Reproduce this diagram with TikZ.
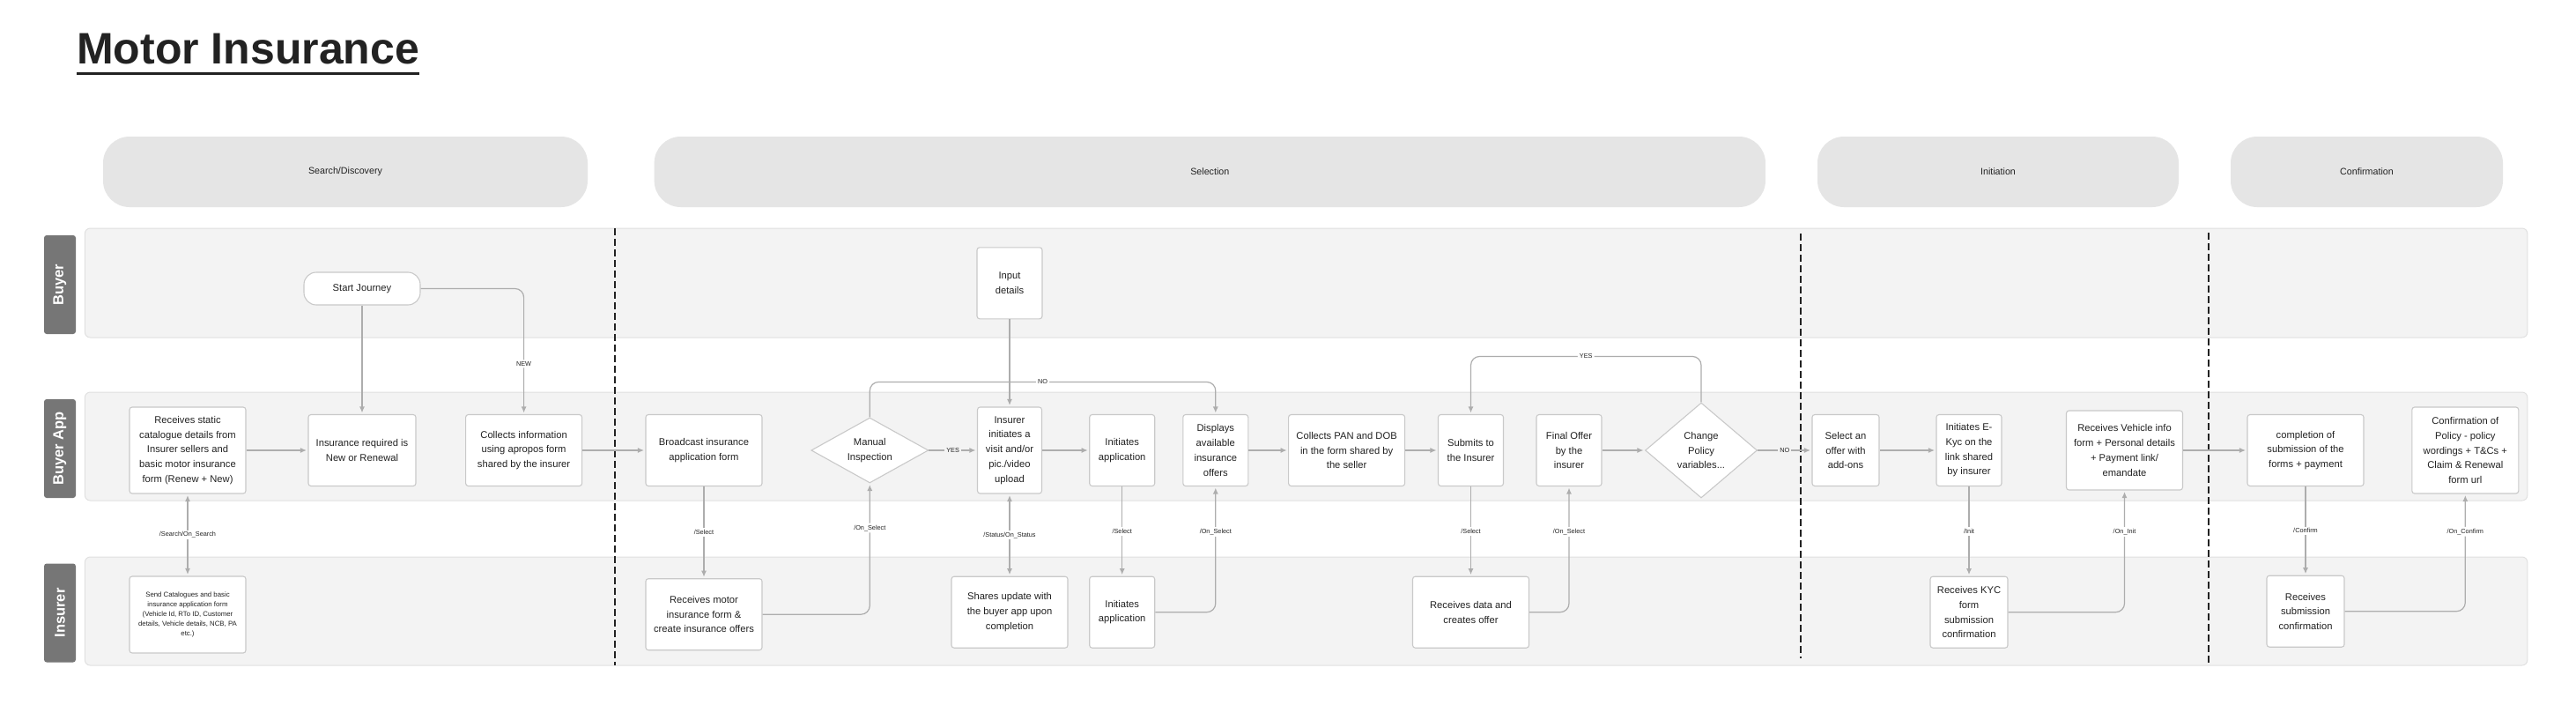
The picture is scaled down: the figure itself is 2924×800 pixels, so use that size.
\documentclass[tikz,border=0pt]{standalone}
\usepackage{fontspec}
\setmainfont{Liberation Sans}
\usetikzlibrary{shapes.geometric,arrows.meta}
\definecolor{lanefill}{HTML}{F3F3F3}
\definecolor{laneline}{HTML}{E0E0E0}
\definecolor{tagfill}{HTML}{767676}
\definecolor{pillfill}{HTML}{E5E5E5}
\definecolor{boxline}{HTML}{C9C9C9}
\definecolor{arrowc}{HTML}{ADADAD}
\definecolor{txt}{HTML}{222222}
\newcommand\bxfont{\fontsize{11.2}{16.7}\selectfont}
\newcommand\smfont{\fontsize{7.8}{11}\selectfont}
\newcommand\lblfont{\fontsize{7.3}{9}\selectfont}
\tikzset{
  pbox/.style 2 args={draw=boxline, fill=white, line width=1.1pt, rounded corners=3pt,
    align=center, text=txt, font=\bxfont, inner sep=0pt,
    minimum width=#1pt, minimum height=#2pt},
  dia/.style 2 args={diamond, draw=boxline, fill=white, line width=1.1pt,
    align=center, text=txt, font=\bxfont, inner sep=0pt,
    minimum width=#1pt, minimum height=#2pt},
  startbox/.style={draw=boxline, fill=white, line width=1.1pt, rounded corners=14pt,
    text=txt, font=\bxfont, minimum width=132pt, minimum height=37pt, inner sep=0pt},
  lane/.style={draw=laneline, fill=lanefill, line width=1pt, rounded corners=6pt,
    minimum width=2772.4pt, inner sep=0pt},
  lanetag/.style={fill=tagfill, rounded corners=3pt, rotate=90, text=white,
    font=\fontsize{16.5}{18}\selectfont\bfseries, minimum width=112pt,
    minimum height=36pt, inner sep=0pt},
  pill/.style={fill=pillfill, rounded corners=30pt, text=txt,
    font=\fontsize{10.7}{12}\selectfont, minimum height=80pt, inner sep=0pt},
  arr/.style={draw=arrowc, line width=1.2pt, -{Latex[length=7pt,width=6pt]}, shorten >=1.5pt},
  arrtwo/.style={draw=arrowc, line width=1.2pt,
    {Latex[length=7pt,width=6pt]}-{Latex[length=7pt,width=6pt]}, shorten >=1.5pt, shorten <=1.5pt},
  lbl/.style={fill=white, font=\lblfont, text=txt, inner sep=2pt},
  lblL/.style={fill=lanefill, font=\lblfont, text=txt, inner sep=2pt},
  phasesep/.style={draw=txt, line width=1.2pt, dash pattern=on 8pt off 4pt}
}
\begin{document}
\begin{tikzpicture}[x=1pt,y=-1pt]
\fill[white] (0,0) rectangle (2924,800);
\useasboundingbox (0,0) rectangle (2924,800);

% title
\node[anchor=base west, font=\fontsize{50}{60}\selectfont\bfseries, text=txt, inner sep=0pt]
  (title) at (87,72.7) {Motor Insurance};
\draw[txt, line width=3pt] ([yshift=-11.3pt]title.base west) -- ([yshift=-11.3pt]title.base east);

% phases
\node[pill, minimum width=550pt]    (ph1) at (392,195)    {Search/Discovery};
\node[pill, minimum width=1261.3pt] (ph2) at (1373.3,195) {Selection};
\node[pill, minimum width=410pt]    (ph3) at (2268,195)   {Initiation};
\node[pill, minimum width=309pt]    (ph4) at (2686.5,195) {Confirmation};

% lanes
\node[lane, minimum height=124pt] (lbuyer) at (1482.6,321)   {};
\node[lane, minimum height=123pt] (lapp)   at (1482.6,506.5) {};
\node[lane, minimum height=123pt] (lins)   at (1482.6,693.5) {};
\node[lanetag] (tbuyer) at (68,323)   {Buyer};
\node[lanetag] (tapp)   at (68,509)   {Buyer App};
\node[lanetag] (tins)   at (68,695.5) {Insurer};

% phase separators
\draw[phasesep] (698,259) -- (698,755);
\draw[phasesep] (2044,265) -- (2044,747);
\draw[phasesep] (2507,264) -- (2507,752);

% buyer lane
\node[startbox] (start) at (411,327.5) {Start Journey};
\node[pbox={74}{81}] (input) at (1146,321.3) {Input\\details};

% buyer app lane
\node[pbox={132}{98}] (recv) at (213,511) {Receives static\\catalogue details from\\Insurer sellers and\\basic motor insurance\\form (Renew + New)};
\node[pbox={122}{81}] (ins) at (411,511) {Insurance required is\\New or Renewal};
\node[pbox={132}{81}] (coll) at (594.6,511) {Collects information\\using apropos form\\shared by the insurer};
\node[pbox={132}{81}] (bcast) at (799,511) {Broadcast insurance\\application form};
\node[dia={133}{74}, aspect=1.8] (manual) at (987.3,511) {Manual\\Inspection};
\node[pbox={73}{98}] (visit) at (1146,511) {Insurer\\initiates a\\visit and/or\\pic./video\\upload};
\node[pbox={74}{81}] (initA) at (1273.7,511) {Initiates\\application};
\node[pbox={74}{81}] (disp) at (1379.8,511) {Displays\\available\\insurance\\offers};
\node[pbox={132}{81}] (pan) at (1528.6,511) {Collects PAN and DOB\\in the form shared by\\the seller};
\node[pbox={74}{81}] (submit) at (1669.5,511) {Submits to\\the Insurer};
\node[pbox={74}{81}] (final) at (1781,511) {Final Offer\\by the\\insurer};
\node[dia={127}{108}, aspect=1.18] (change) at (1931,511) {Change\\Policy\\variables...};
\node[pbox={76}{81}] (selo) at (2095,511) {Select an\\offer with\\add-ons};
\node[pbox={74}{81}] (ekyc) at (2235,511) {Initiates E-\\Kyc on the\\link shared\\by insurer};
\node[pbox={132}{90}] (veh) at (2411.5,511) {Receives Vehicle info\\form + Personal details\\+ Payment link/\\emandate};
\node[pbox={132}{81}] (compl) at (2617,511) {completion of\\submission of the\\forms + payment};
\node[pbox={121}{98}] (conf) at (2798.3,511) {Confirmation of\\Policy - policy\\wordings + T\&Cs +\\Claim \& Renewal\\form url};

% insurer lane
\node[pbox={132}{87}, font=\smfont] (send) at (213,697.5) {Send Catalogues and basic\\insurance application form\\(Vehicle Id, RTo ID, Customer\\details, Vehicle details, NCB, PA\\etc.)};
\node[pbox={132}{81}] (rmotor) at (799,697.2) {Receives motor\\insurance form \&\\create insurance offers};
\node[pbox={132}{81}] (share) at (1146,694.7) {Shares update with\\the buyer app upon\\completion};
\node[pbox={74}{81}] (initI) at (1273.7,694.7) {Initiates\\application};
\node[pbox={132}{81}] (rdata) at (1669.5,694.7) {Receives data and\\creates offer};
\node[pbox={88}{81}] (rkyc) at (2235,694.7) {Receives KYC\\form\\submission\\confirmation};
\node[pbox={88}{81}] (rsub) at (2617,693.7) {Receives\\submission\\confirmation};

% connectors
\draw[arr] (start.south) -- (ins.north);
\draw[arr, rounded corners=10pt] (start.east) -| node[lbl, pos=0.8] {NEW} (coll.north);
\draw[arr] (recv.east) -- (ins.west);
\draw[arr] (coll.east) -- (bcast.west);
\draw[arrtwo] (recv.south) -- node[lbl] {/Search/On\_Search} (send.north);
\draw[arr] (bcast.south) -- node[lbl] {/Select} (rmotor.north);
\draw[arr, rounded corners=10pt] (rmotor.east) -| node[lbl, pos=0.83] {/On\_Select} (manual.south);
\draw[arr] (manual.east) -- node[lblL] {YES} (visit.west);
\draw[arr, rounded corners=10pt] (manual.north) -- ++(0,-40) -| node[lbl, pos=0.25] {NO} (disp.north);
\draw[arr] (input.south) -- (visit.north);
\draw[arr] (visit.east) -- (initA.west);
\draw[arrtwo] (visit.south) -- node[lbl] {/Status/On\_Status} (share.north);
\draw[arr] (initA.south) -- node[lbl] {/Select} (initI.north);
\draw[arr, rounded corners=10pt] (initI.east) -| node[lbl, pos=0.82] {/On\_Select} (disp.south);
\draw[arr] (disp.east) -- (pan.west);
\draw[arr] (pan.east) -- (submit.west);
\draw[arr] (submit.south) -- node[lbl] {/Select} (rdata.north);
\draw[arr, rounded corners=10pt] (rdata.east) -| node[lbl, pos=0.82] {/On\_Select} (final.south);
\draw[arr] (final.east) -- (change.west);
\draw[arr, rounded corners=10pt] (change.north) -- ++(0,-52) -| node[lbl, pos=0.25] {YES} (submit.north);
\draw[arr] (change.east) -- node[lblL] {NO} (selo.west);
\draw[arr] (selo.east) -- (ekyc.west);
\draw[arr] (ekyc.south) -- node[lbl] {/Init} (rkyc.north);
\draw[arr, rounded corners=10pt] (rkyc.east) -| node[lbl, pos=0.83] {/On\_Init} (veh.south);
\draw[arr] (veh.east) -- (compl.west);
\draw[arr] (compl.south) -- node[lbl] {/Confirm} (rsub.north);
\draw[arr, rounded corners=10pt] (rsub.east) -| node[lbl, pos=0.84] {/On\_Confirm} (conf.south);
\end{tikzpicture}
\end{document}
